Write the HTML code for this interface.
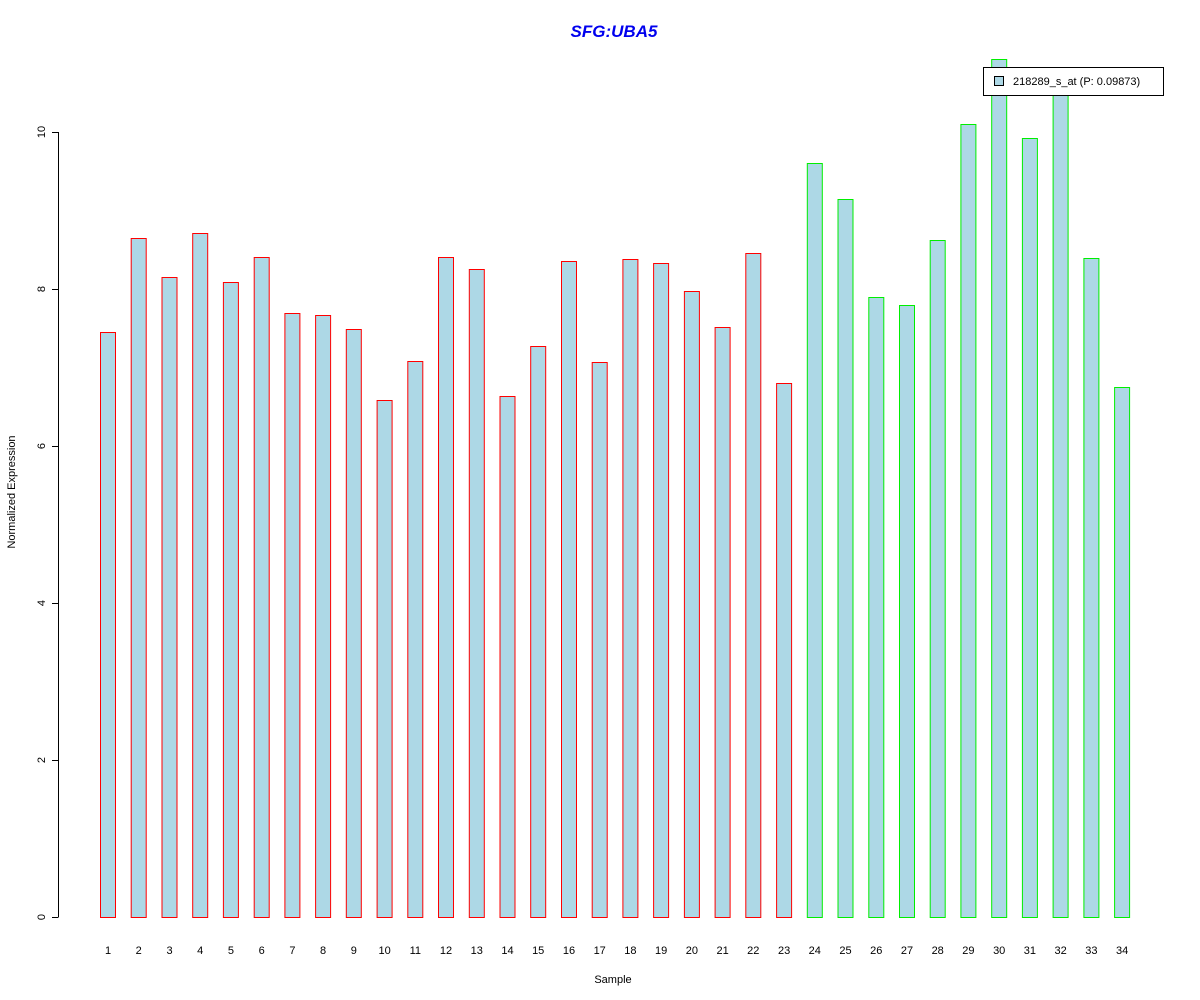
<!DOCTYPE html>
<html><head><style>body{margin:0;background:#fff}svg{display:block}</style></head><body>
<svg width="1200" height="1000" xmlns="http://www.w3.org/2000/svg" font-family="Liberation Sans, sans-serif">
<rect width="1200" height="1000" fill="#fff"/>
<text x="614" y="37" text-anchor="middle" font-size="17" font-weight="bold" font-style="italic" fill="#0000ee">SFG:UBA5</text>
<g stroke="#000" stroke-width="1">
<line x1="58.5" y1="917" x2="58.5" y2="132"/>
<line x1="52" y1="917.5" x2="58.5" y2="917.5"/>
<line x1="52" y1="760.5" x2="58.5" y2="760.5"/>
<line x1="52" y1="603.5" x2="58.5" y2="603.5"/>
<line x1="52" y1="446.5" x2="58.5" y2="446.5"/>
<line x1="52" y1="289.5" x2="58.5" y2="289.5"/>
<line x1="52" y1="132.5" x2="58.5" y2="132.5"/>
</g>
<g font-size="11" text-anchor="middle" fill="#000">
<text transform="translate(45,917) rotate(-90)">0</text>
<text transform="translate(45,760) rotate(-90)">2</text>
<text transform="translate(45,603) rotate(-90)">4</text>
<text transform="translate(45,446) rotate(-90)">6</text>
<text transform="translate(45,289) rotate(-90)">8</text>
<text transform="translate(45,132) rotate(-90)">10</text>
<text transform="translate(15,492) rotate(-90)">Normalized Expression</text>
<text x="613" y="983">Sample</text>
</g>
<g fill="#add8e6" stroke="#ff0000">
<rect x="100.5" y="332.5" width="15" height="585"/>
<rect x="131.2" y="238.5" width="15" height="679"/>
<rect x="162.0" y="277.5" width="15" height="640"/>
<rect x="192.7" y="233.5" width="15" height="684"/>
<rect x="223.4" y="282.5" width="15" height="635"/>
<rect x="254.2" y="257.5" width="15" height="660"/>
<rect x="284.9" y="313.5" width="15" height="604"/>
<rect x="315.6" y="315.5" width="15" height="602"/>
<rect x="346.3" y="329.5" width="15" height="588"/>
<rect x="377.1" y="400.5" width="15" height="517"/>
<rect x="407.8" y="361.5" width="15" height="556"/>
<rect x="438.5" y="257.5" width="15" height="660"/>
<rect x="469.3" y="269.5" width="15" height="648"/>
<rect x="500.0" y="396.5" width="15" height="521"/>
<rect x="530.7" y="346.5" width="15" height="571"/>
<rect x="561.5" y="261.5" width="15" height="656"/>
<rect x="592.2" y="362.5" width="15" height="555"/>
<rect x="622.9" y="259.5" width="15" height="658"/>
<rect x="653.6" y="263.5" width="15" height="654"/>
<rect x="684.4" y="291.5" width="15" height="626"/>
<rect x="715.1" y="327.5" width="15" height="590"/>
<rect x="745.8" y="253.5" width="15" height="664"/>
<rect x="776.6" y="383.5" width="15" height="534"/>
</g>
<g fill="#add8e6" stroke="#00ee00">
<rect x="807.3" y="163.5" width="15" height="754"/>
<rect x="838.0" y="199.5" width="15" height="718"/>
<rect x="868.8" y="297.5" width="15" height="620"/>
<rect x="899.5" y="305.5" width="15" height="612"/>
<rect x="930.2" y="240.5" width="15" height="677"/>
<rect x="960.9" y="124.5" width="15" height="793"/>
<rect x="991.7" y="59.5" width="15" height="858"/>
<rect x="1022.4" y="138.5" width="15" height="779"/>
<rect x="1053.1" y="88.5" width="15" height="829"/>
<rect x="1083.9" y="258.5" width="15" height="659"/>
<rect x="1114.6" y="387.5" width="15" height="530"/>
</g>
<g font-size="11" text-anchor="middle" fill="#000">
<text x="108" y="954">1</text><text x="138.7" y="954">2</text><text x="169.5" y="954">3</text><text x="200.2" y="954">4</text><text x="230.9" y="954">5</text><text x="261.7" y="954">6</text><text x="292.4" y="954">7</text><text x="323.1" y="954">8</text><text x="353.8" y="954">9</text><text x="384.6" y="954">10</text><text x="415.3" y="954">11</text><text x="446" y="954">12</text><text x="476.8" y="954">13</text><text x="507.5" y="954">14</text><text x="538.2" y="954">15</text><text x="569" y="954">16</text><text x="599.7" y="954">17</text><text x="630.4" y="954">18</text><text x="661.1" y="954">19</text><text x="691.9" y="954">20</text><text x="722.6" y="954">21</text><text x="753.3" y="954">22</text><text x="784.1" y="954">23</text><text x="814.8" y="954">24</text><text x="845.5" y="954">25</text><text x="876.3" y="954">26</text><text x="907" y="954">27</text><text x="937.7" y="954">28</text><text x="968.4" y="954">29</text><text x="999.2" y="954">30</text><text x="1029.9" y="954">31</text><text x="1060.6" y="954">32</text><text x="1091.4" y="954">33</text><text x="1122.1" y="954">34</text>
</g>
<rect x="983.5" y="67.5" width="180" height="28" fill="#fff" stroke="#000"/>
<rect x="994.5" y="76.5" width="9" height="9" fill="#add8e6" stroke="#000"/>
<text x="1013" y="85" font-size="11">218289_s_at (P: 0.09873)</text>
</svg>
</body></html>
